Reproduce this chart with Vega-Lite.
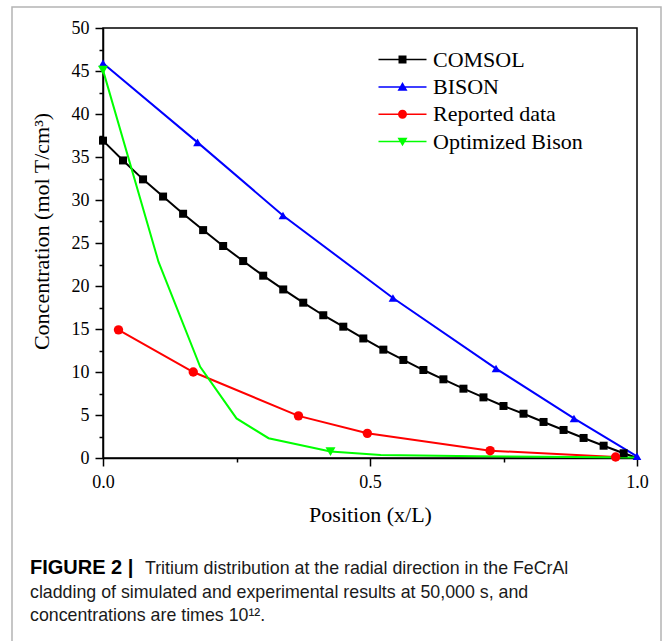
{
  "$schema": "https://vega.github.io/schema/vega-lite/v6.json",
  "width": 534,
  "height": 430,
  "autosize": {"type": "none"},
  "padding": {"left": 103, "top": 28, "right": 27, "bottom": 183},
  "background": "white",
  "config": {
    "font": "Liberation Serif",
    "view": {"stroke": "black", "strokeWidth": 1.5},
    "axis": {
      "grid": false,
      "labelFlush": false,
      "domainColor": "black",
      "domainWidth": 1.5,
      "tickColor": "black",
      "tickWidth": 1.5,
      "labelColor": "black",
      "titleColor": "black",
      "labelFont": "Liberation Serif",
      "titleFont": "Liberation Serif",
      "labelFontSize": 18,
      "titleFontSize": 22,
      "titleFontWeight": "normal"
    }
  },
  "datasets": {
    "profiles": [
      {"series": "COMSOL", "x": 0, "y": 36.9},
      {"series": "COMSOL", "x": 0.0375, "y": 34.6},
      {"series": "COMSOL", "x": 0.075, "y": 32.4},
      {"series": "COMSOL", "x": 0.1125, "y": 30.4},
      {"series": "COMSOL", "x": 0.15, "y": 28.4},
      {"series": "COMSOL", "x": 0.1875, "y": 26.5},
      {"series": "COMSOL", "x": 0.225, "y": 24.65},
      {"series": "COMSOL", "x": 0.2625, "y": 22.9},
      {"series": "COMSOL", "x": 0.3, "y": 21.2},
      {"series": "COMSOL", "x": 0.3375, "y": 19.6},
      {"series": "COMSOL", "x": 0.375, "y": 18.06},
      {"series": "COMSOL", "x": 0.4125, "y": 16.6},
      {"series": "COMSOL", "x": 0.45, "y": 15.27},
      {"series": "COMSOL", "x": 0.4875, "y": 13.9},
      {"series": "COMSOL", "x": 0.525, "y": 12.6},
      {"series": "COMSOL", "x": 0.5625, "y": 11.4},
      {"series": "COMSOL", "x": 0.6, "y": 10.23},
      {"series": "COMSOL", "x": 0.6375, "y": 9.15},
      {"series": "COMSOL", "x": 0.675, "y": 8.06},
      {"series": "COMSOL", "x": 0.7125, "y": 7.05},
      {"series": "COMSOL", "x": 0.75, "y": 6.05},
      {"series": "COMSOL", "x": 0.7875, "y": 5.15},
      {"series": "COMSOL", "x": 0.825, "y": 4.19},
      {"series": "COMSOL", "x": 0.8625, "y": 3.26},
      {"series": "COMSOL", "x": 0.9, "y": 2.33},
      {"series": "COMSOL", "x": 0.9375, "y": 1.43},
      {"series": "COMSOL", "x": 0.975, "y": 0.55},
      {"series": "COMSOL", "x": 1.0, "y": 0},
      {"series": "BISON", "x": 0, "y": 45.9},
      {"series": "BISON", "x": 0.177, "y": 36.7},
      {"series": "BISON", "x": 0.337, "y": 28.2},
      {"series": "BISON", "x": 0.543, "y": 18.6},
      {"series": "BISON", "x": 0.736, "y": 10.4},
      {"series": "BISON", "x": 0.882, "y": 4.6},
      {"series": "BISON", "x": 1.0, "y": 0.2},
      {"series": "Reported data", "x": 0.029, "y": 14.9},
      {"series": "Reported data", "x": 0.169, "y": 10.0},
      {"series": "Reported data", "x": 0.366, "y": 4.9},
      {"series": "Reported data", "x": 0.495, "y": 2.87},
      {"series": "Reported data", "x": 0.725, "y": 0.85},
      {"series": "Reported data", "x": 0.96, "y": 0.12},
      {"series": "Optimized Bison", "x": 0, "y": 45.1},
      {"series": "Optimized Bison", "x": 0.104, "y": 22.8},
      {"series": "Optimized Bison", "x": 0.182, "y": 10.6},
      {"series": "Optimized Bison", "x": 0.25, "y": 4.6},
      {"series": "Optimized Bison", "x": 0.31, "y": 2.3},
      {"series": "Optimized Bison", "x": 0.426, "y": 0.75},
      {"series": "Optimized Bison", "x": 0.52, "y": 0.35},
      {"series": "Optimized Bison", "x": 0.7, "y": 0.2},
      {"series": "Optimized Bison", "x": 1.0, "y": 0.05}
    ]
  },
  "data": {"name": "profiles"},
  "resolve": {
    "axis": {"x": "independent", "y": "independent"},
    "scale": {"shape": "independent", "color": "independent"}
  },
  "layer": [
    {
      "data": {"values": [{}]},
      "mark": {"type": "rect", "fill": null, "stroke": "#b4b4b4", "strokeWidth": 1.5, "clip": false},
      "encoding": {
        "x": {"value": -91},
        "x2": {"value": 558},
        "y": {"value": -21},
        "y2": {"value": 660}
      }
    },
    {
      "mark": {"type": "line", "strokeWidth": 2, "clip": false},
      "encoding": {
        "x": {
          "field": "x", "type": "quantitative",
          "scale": {"domain": [0, 1], "nice": false},
          "axis": {
            "orient": "bottom", "values": [0, 0.5, 1], "format": ".1f",
            "tickSize": 8, "labelPadding": 7, "title": "Position (x/L)", "titlePadding": 13
          }
        },
        "y": {
          "field": "y", "type": "quantitative",
          "scale": {"domain": [0, 50], "nice": false},
          "axis": {
            "orient": "left", "values": [0, 5, 10, 15, 20, 25, 30, 35, 40, 45, 50],
            "tickSize": 8, "labelPadding": 6,
            "title": "Concentration (mol T/cm³)", "titlePadding": 18, "titleY": 203
          }
        },
        "color": {
          "field": "series", "type": "nominal", "legend": null,
          "scale": {
            "domain": ["COMSOL", "BISON", "Reported data", "Optimized Bison"],
            "range": ["#000000", "#0000ff", "#ff0000", "#00ff00"]
          }
        },
        "order": {"field": "x", "type": "quantitative"}
      }
    },
    {
      "transform": [
        {"filter": "(datum.series == 'COMSOL' && datum.x < 1) || datum.series == 'BISON' || datum.series == 'Reported data' || (datum.series == 'Optimized Bison' && (datum.x == 0 || datum.x == 0.426))"}
      ],
      "mark": {"type": "point", "filled": true, "opacity": 1, "clip": false},
      "encoding": {
        "x": {
          "field": "x", "type": "quantitative",
          "axis": {"orient": "bottom", "values": [0.25, 0.75], "tickSize": 4, "labels": false, "domain": false, "title": null}
        },
        "y": {
          "field": "y", "type": "quantitative",
          "axis": {"orient": "left", "values": [2.5, 7.5, 12.5, 17.5, 22.5, 27.5, 32.5, 37.5, 42.5, 47.5], "tickSize": 4, "labels": false, "domain": false, "title": null}
        },
        "color": {
          "field": "series", "type": "nominal", "legend": null,
          "scale": {
            "domain": ["COMSOL", "BISON", "Reported data", "Optimized Bison"],
            "range": ["#000000", "#0000ff", "#ff0000", "#00ff00"]
          }
        },
        "shape": {
          "field": "series", "type": "nominal", "legend": null,
          "scale": {
            "domain": ["COMSOL", "BISON", "Reported data", "Optimized Bison"],
            "range": ["square", "triangle-up", "circle", "triangle-down"]
          }
        },
        "size": {
          "field": "series", "type": "nominal", "legend": null,
          "scale": {
            "domain": ["COMSOL", "BISON", "Reported data", "Optimized Bison"],
            "range": [64, 100, 81, 100]
          }
        }
      }
    },
    {
      "transform": [{"filter": "false"}],
      "mark": {"type": "point", "filled": true, "opacity": 1},
      "encoding": {
        "x": {"field": "x", "type": "quantitative", "axis": null},
        "y": {"field": "y", "type": "quantitative", "axis": null},
        "color": {
          "field": "series", "type": "nominal",
          "scale": {
            "domain": ["COMSOL", "BISON", "Reported data", "Optimized Bison"],
            "range": ["#000000", "#0000ff", "#ff0000", "#00ff00"]
          },
          "legend": {
            "title": null, "orient": "none", "legendX": 288.5, "legendY": 20.6,
            "labelFont": "Liberation Serif", "labelFontSize": 22, "labelColor": "black",
            "symbolSize": 64, "symbolStrokeWidth": 0, "labelOffset": 19.5, "rowPadding": 5.3
          }
        },
        "shape": {
          "field": "series", "type": "nominal",
          "scale": {
            "domain": ["COMSOL", "BISON", "Reported data", "Optimized Bison"],
            "range": [
              "M-6,-0.19H6V0.19H-6Z M-1,-1H1V1H-1Z",
              "M-6,-0.19H6V0.19H-6Z M0,-1.2L1.25,0.95L-1.25,0.95Z",
              "M-6,-0.19H6V0.19H-6Z M-1.125,0A1.125,1.125,0,1,1,1.125,0A1.125,1.125,0,1,1,-1.125,0Z",
              "M-6,-0.19H6V0.19H-6Z M0,1.2L-1.25,-0.95L1.25,-0.95Z"
            ]
          },
          "legend": {
            "title": null, "orient": "none", "legendX": 288.5, "legendY": 20.6,
            "labelFont": "Liberation Serif", "labelFontSize": 22, "labelColor": "black",
            "symbolSize": 64, "symbolStrokeWidth": 0, "labelOffset": 19.5, "rowPadding": 5.3
          }
        }
      }
    },
    {
      "data": {"values": [{}]},
      "mark": {"type": "text", "align": "left", "baseline": "alphabetic", "font": "Liberation Sans", "fontSize": 20, "fontWeight": "bold", "color": "black"},
      "encoding": {"x": {"value": -73}, "y": {"value": 546}, "text": {"value": "FIGURE 2 |"}}
    },
    {
      "data": {"values": [{}]},
      "mark": {"type": "text", "align": "left", "baseline": "alphabetic", "font": "Liberation Sans", "fontSize": 17.8, "color": "#1a1a1a"},
      "encoding": {"x": {"value": 42}, "y": {"value": 546}, "text": {"value": "Tritium distribution at the radial direction in the FeCrAl"}}
    },
    {
      "data": {"values": [{}]},
      "mark": {"type": "text", "align": "left", "baseline": "alphabetic", "font": "Liberation Sans", "fontSize": 17.8, "color": "#1a1a1a"},
      "encoding": {"x": {"value": -73}, "y": {"value": 570}, "text": {"value": "cladding of simulated and experimental results at 50,000 s, and"}}
    },
    {
      "data": {"values": [{}]},
      "mark": {"type": "text", "align": "left", "baseline": "alphabetic", "font": "Liberation Sans", "fontSize": 17.8, "color": "#1a1a1a"},
      "encoding": {"x": {"value": -73}, "y": {"value": 593}, "text": {"value": "concentrations are times 10¹²."}}
    }
  ]
}
